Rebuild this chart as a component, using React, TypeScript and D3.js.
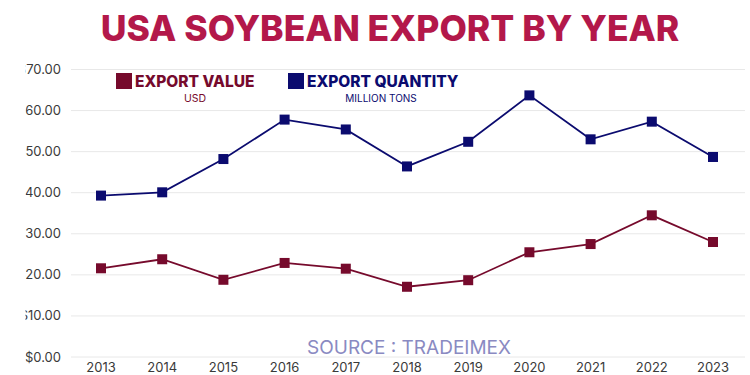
import React from "react";
import * as d3 from "d3";

const years = ["2013","2014","2015","2016","2017","2018","2019","2020","2021","2022","2023"];
const exportValue = [21.6, 23.8, 18.8, 22.9, 21.5, 17.1, 18.7, 25.5, 27.5, 34.5, 28.0];
const exportQuantity = [39.3, 40.1, 48.2, 57.8, 55.4, 46.4, 52.4, 63.7, 53.0, 57.3, 48.7];
const yTicks = [0, 10, 20, 30, 40, 50, 60, 70];

const VALUE_COLOR = "#760a2c";
const QTY_COLOR = "#0b0b6f";
const FONT = "Inter, 'Open Sans', sans-serif";

export default function App() {
  const W = 750, H = 375;
  const x = d3.scalePoint<string>().domain(years).range([101, 713]);
  const y = d3.scaleLinear().domain([0, 70]).range([357, 69.5]);
  const line = d3.line<number>().x((_, i) => x(years[i])!).y(d => y(d));
  const ms = 10;
  return (
    <svg width={W} height={H} style={{ position: "absolute", left: 0, top: 0, background: "#fff" }}>
      <defs>
        <clipPath id="ylab"><rect x={25.5} y={0} width={60} height={H} /></clipPath>
      </defs>
      <text x={390} y={41} textAnchor="middle" fontFamily={FONT} fontWeight={800} fontSize={35.5} fill="#b3184a">USA SOYBEAN EXPORT BY YEAR</text>
      {yTicks.map(t => (
        <g key={t}>
          <line x1={71} x2={745} y1={y(t)} y2={y(t)} stroke="#e8e8e8" strokeWidth={1} />
          <text clipPath="url(#ylab)" x={61} y={y(t) + 4.5} textAnchor="end" fontFamily={FONT} fontSize={13} fill="#3a3a3a">{"$" + t.toFixed(2)}</text>
        </g>
      ))}
      {years.map(yr => (
        <text key={yr} x={x(yr)} y={372} textAnchor="middle" fontFamily={FONT} fontSize={13} fill="#3a3a3a">{yr}</text>
      ))}
      <path d={line(exportQuantity)!} fill="none" stroke={QTY_COLOR} strokeWidth={1.8} />
      <path d={line(exportValue)!} fill="none" stroke={VALUE_COLOR} strokeWidth={1.8} />
      {exportQuantity.map((v, i) => (
        <rect key={"q" + i} x={x(years[i])! - ms / 2} y={y(v) - ms / 2} width={ms} height={ms} fill={QTY_COLOR} />
      ))}
      {exportValue.map((v, i) => (
        <rect key={"v" + i} x={x(years[i])! - ms / 2} y={y(v) - ms / 2} width={ms} height={ms} fill={VALUE_COLOR} />
      ))}
      <rect x={116} y={73} width={16} height={16} fill={VALUE_COLOR} />
      <text x={135} y={87} fontFamily={FONT} fontWeight={800} fontSize={15.5} fill={VALUE_COLOR}>EXPORT VALUE</text>
      <text x={195} y={102} textAnchor="middle" fontFamily={FONT} fontSize={10.5} fill={VALUE_COLOR}>USD</text>
      <rect x={288} y={73} width={16} height={16} fill={QTY_COLOR} />
      <text x={307} y={87} fontFamily={FONT} fontWeight={800} fontSize={15.5} fill={QTY_COLOR}>EXPORT QUANTITY</text>
      <text x={381} y={102} textAnchor="middle" fontFamily={FONT} fontSize={10} fill={QTY_COLOR}>MILLION TONS</text>
      <text x={409} y={354} textAnchor="middle" fontFamily={FONT} fontSize={19} fill="#8a8ac2">SOURCE : TRADEIMEX</text>
    </svg>
  );
}
